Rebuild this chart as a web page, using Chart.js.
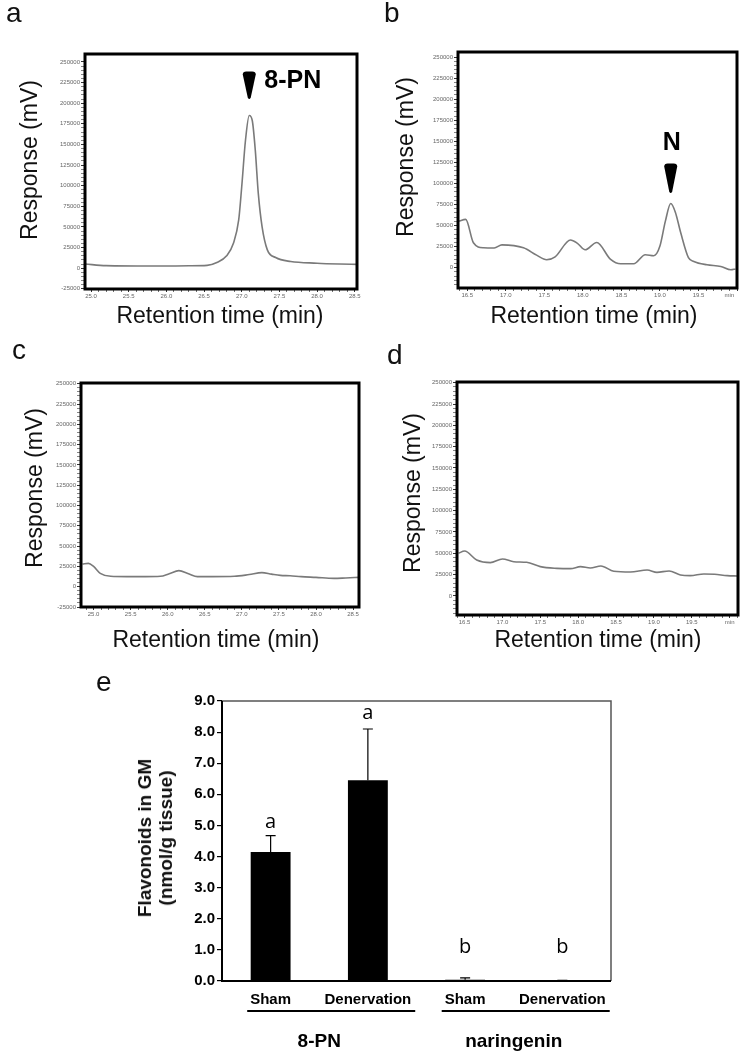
<!DOCTYPE html>
<html>
<head>
<meta charset="utf-8">
<script src="https://cdn.jsdelivr.net/npm/chart.js@4.4.1/dist/chart.umd.min.js"></script>
<style>
  body { margin: 0; background: #fff; }
  #page { position: relative; width: 743px; height: 1055px; overflow: hidden; font-family: "Liberation Sans", Arial, sans-serif; }
  canvas { position: absolute; }
  .t { position: absolute; white-space: nowrap; color: #111; line-height: 1; }
  .letter { font-size: 28px; }
  .ytitle { font-size: 23px; transform: translate(-50%, -50%) rotate(-90deg); }
  .xtitle { font-size: 23px; transform: translate(-50%, -50%); }
  .etitle { font-size: 19px; font-weight: bold; line-height: 21px; text-align: center; transform: translate(-50%, -50%) rotate(-90deg); }
</style>
</head>
<body>
<div id="page">
  <canvas id="chartA" width="370" height="340" style="left:0;top:0"></canvas>
  <canvas id="chartB" width="373" height="340" style="left:370px;top:0"></canvas>
  <canvas id="chartC" width="370" height="300" style="left:0;top:340px"></canvas>
  <canvas id="chartD" width="373" height="300" style="left:370px;top:340px"></canvas>
  <canvas id="chartE" width="743" height="405" style="left:0;top:650px"></canvas>

  <div class="t letter" style="left:6px;top:-1px">a</div>
  <div class="t letter" style="left:384px;top:-1px">b</div>
  <div class="t letter" style="left:12px;top:336px">c</div>
  <div class="t letter" style="left:387px;top:341px">d</div>
  <div class="t letter" style="left:96px;top:668px">e</div>

  <div class="t ytitle" style="left:29px;top:160px">Response (mV)</div>
  <div class="t ytitle" style="left:405px;top:157px">Response (mV)</div>
  <div class="t ytitle" style="left:34px;top:488px">Response (mV)</div>
  <div class="t ytitle" style="left:412px;top:493px">Response (mV)</div>

  <div class="t xtitle" style="left:220px;top:315px">Retention time (min)</div>
  <div class="t xtitle" style="left:594px;top:315px">Retention time (min)</div>
  <div class="t xtitle" style="left:216px;top:639px">Retention time (min)</div>
  <div class="t xtitle" style="left:598px;top:639px">Retention time (min)</div>

  <div class="t etitle" style="left:155px;top:838px">Flavonoids in GM<br>(nmol/g tissue)</div>
</div>
<script>
// panel a: 8-PN standard
const timeA = [24.92, 25.2, 25.8, 26.3, 26.54, 26.67, 26.8, 26.89, 26.96, 27.0, 27.05, 27.1, 27.14, 27.18, 27.22, 27.27, 27.34, 27.45, 27.65, 28.0, 28.3, 28.53];
const respA = [5000, 3000, 2500, 2800, 3300, 6800, 14900, 30200, 58400, 98600, 155000, 185000, 179000, 143000, 90600, 50300, 22100, 12900, 8000, 6000, 5000, 4500];

// panel b: naringenin standard
const timeB = [16.39, 16.48, 16.58, 16.71, 16.85, 16.95, 17.23, 17.4, 17.53, 17.64, 17.84, 17.93, 18.03, 18.18, 18.36, 18.49, 18.66, 18.81, 18.92, 19.0, 19.07, 19.14, 19.2, 19.27, 19.37, 19.44, 19.61, 19.79, 19.92, 19.98];
const respB = [55400, 57400, 29600, 23700, 23500, 27200, 23700, 15000, 9500, 13000, 33000, 29000, 21300, 30000, 9900, 4700, 4700, 15400, 14200, 25700, 55000, 76300, 66000, 41500, 12000, 7500, 3500, 1600, -2400, -1400];

// panel c: sham sample, 8-PN window
const timeC = [24.85, 24.93, 25.0, 25.09, 25.23, 25.45, 25.7, 25.9, 26.02, 26.15, 26.28, 26.4, 26.6, 26.9, 27.1, 27.27, 27.4, 27.52, 27.65, 27.8, 28.0, 28.24, 28.4, 28.58];
const respC = [28000, 28800, 25000, 16500, 12800, 12400, 12400, 12800, 16000, 19800, 16000, 12400, 12400, 12800, 15000, 17300, 15500, 14000, 13500, 12400, 11500, 10300, 10800, 11500];

// panel d: sham sample, naringenin window
const timeD = [16.42, 16.5, 16.66, 16.84, 17.0, 17.15, 17.32, 17.5, 17.72, 17.9, 18.03, 18.16, 18.3, 18.47, 18.69, 18.91, 19.04, 19.2, 19.35, 19.48, 19.66, 19.8, 19.97, 20.1];
const respD = [50000, 52700, 42200, 39100, 43400, 40200, 39500, 34400, 32400, 32000, 34400, 32800, 35200, 28900, 28100, 30500, 27700, 29300, 24600, 23800, 25800, 25400, 23800, 23400];

// panel e: flavonoids in GM
const barLabels = ["Sham", "Denervation", "Sham", "Denervation"];
const barMeans = [4.15, 6.45, 0.04, 0.01];
const barSD = [0.52, 1.65, 0.06, 0.01];
const sigLetters = ["a", "a", "b", "b"];
const letterLevel = [5.1, 8.6, 1.07, 1.07];
const groupNames = ["8-PN", "naringenin"];
const barTicks = [0, 1, 2, 3, 4, 5, 6, 7, 8, 9];

Chart.defaults.font.family = "'Liberation Sans', Arial, sans-serif";
Chart.defaults.animation = false;

const catFont = "bold 15px 'Liberation Sans', Arial, sans-serif";

const frame = {
  id: "frame",
  afterDatasetsDraw(chart, args, o) {
    const { ctx, chartArea: a } = chart;
    ctx.save();
    if (o.split) {
      ctx.strokeStyle = "#555";
      ctx.lineWidth = 1.5;
      ctx.beginPath();
      ctx.moveTo(a.left, a.top);
      ctx.lineTo(a.right, a.top);
      ctx.lineTo(a.right, a.bottom);
      ctx.stroke();
      ctx.strokeStyle = "#000";
      ctx.lineWidth = 2;
      ctx.beginPath();
      ctx.moveTo(a.left, a.top);
      ctx.lineTo(a.left, a.bottom);
      ctx.lineTo(a.right, a.bottom);
      ctx.stroke();
    } else {
      ctx.strokeStyle = "#000";
      ctx.lineWidth = o.width || 3;
      ctx.strokeRect(a.left, a.top, a.right - a.left, a.bottom - a.top);
    }
    ctx.restore();
  },
};

// arrowhead + compound name above a peak
const peakMark = {
  id: "peakMark",
  afterDatasetsDraw(chart, args, o) {
    if (!o.text) return;
    const ctx = chart.ctx;
    const x = chart.scales.x.getPixelForValue(o.t);
    const tip = chart.scales.y.getPixelForValue(o.v) - o.gap;
    const top = tip - o.len;
    ctx.save();
    ctx.fillStyle = "#000";
    ctx.beginPath();
    ctx.moveTo(x - 6.5, top + 3);
    ctx.quadraticCurveTo(x - 6.5, top, x - 3, top);
    ctx.lineTo(x + 3, top);
    ctx.quadraticCurveTo(x + 6.5, top, x + 6.5, top + 3);
    ctx.lineTo(x + 1.5, tip - 2);
    ctx.quadraticCurveTo(x, tip + 1, x - 1.5, tip - 2);
    ctx.closePath();
    ctx.fill();
    ctx.font = "bold 25px 'Liberation Sans', Arial, sans-serif";
    ctx.textBaseline = "middle";
    if (o.side === "right") {
      ctx.textAlign = "left";
      ctx.fillText(o.text, x + 15, top + 10);
    } else {
      ctx.textAlign = "center";
      ctx.fillText(o.text, x + 1, top - 20);
    }
    ctx.restore();
  },
};

function chromatogram(id, times, resp, cfg) {
  const pts = times.map((t, i) => ({ x: t, y: resp[i] }));
  return new Chart(document.getElementById(id), {
    type: "line",
    data: {
      datasets: [{
        data: pts,
        borderColor: "#7a7a7a",
        borderWidth: 1.6,
        pointRadius: 0,
        cubicInterpolationMode: "monotone",
        fill: false,
      }],
    },
    options: {
      responsive: false,
      layout: { padding: { left: 0, top: cfg.top, right: cfg.right, bottom: 0 } },
      plugins: {
        legend: { display: false },
        tooltip: { enabled: false },
        frame: { width: 3 },
        peakMark: cfg.mark || {},
      },
      scales: {
        x: {
          type: "linear",
          min: cfg.xMin,
          max: cfg.xMax,
          afterFit: (s) => { s.height = cfg.xh; },
          afterBuildTicks: (s) => {
            const t = [];
            for (let i = Math.ceil(s.min * 10); i <= Math.floor(s.max * 10); i++) t.push({ value: i / 10 });
            s.ticks = t;
          },
          border: { display: false },
          grid: {
            drawOnChartArea: false, tickLength: 3, color: "#333",
            lineWidth: (c) => (Math.round(c.tick.value * 10) % 5 === 0 ? 1 : 0.7),
          },
          ticks: {
            autoSkip: false, maxRotation: 0, padding: 1, color: "#666", font: { size: 6 },
            callback: (v) => {
              const r = Math.round(v * 10);
              if (cfg.minAt) {
                const m = Math.round(cfg.minAt * 10);
                if (r === m) return "min";
                if (r > m) return "";
              }
              return r % 5 === 0 ? (r / 10).toFixed(1) : "";
            },
          },
        },
        y: {
          min: cfg.yMin,
          max: cfg.yMax,
          afterFit: (s) => { s.width = cfg.yw; },
          afterBuildTicks: (s) => {
            const t = [];
            for (let v = Math.ceil(s.min / 5000) * 5000; v <= Math.min(s.max, 250000); v += 5000) t.push({ value: v });
            s.ticks = t;
          },
          border: { display: false },
          grid: {
            drawOnChartArea: false, tickLength: 4, color: "#333",
            lineWidth: (c) => (c.tick.value % 25000 === 0 ? 1 : 0.6),
          },
          ticks: {
            autoSkip: false, padding: 1, color: "#666", font: { size: 6 },
            callback: (v) => (v % 25000 === 0 ? String(v) : ""),
          },
        },
      },
    },
    plugins: [frame, peakMark],
  });
}

chromatogram("chartA", timeA, respA, {
  xMin: 24.92, xMax: 28.53, yMin: -25300, yMax: 259600,
  top: 54, right: 13, yw: 85, xh: 51,
  mark: { t: 27.1, v: 185000, gap: 16, len: 28, text: "8-PN", side: "right" },
});
chromatogram("chartB", timeB, respB, {
  xMin: 16.38, xMax: 20.0, yMin: -24000, yMax: 256000,
  top: 52, right: 6, yw: 88, xh: 52, minAt: 19.9,
  mark: { t: 19.14, v: 76300, gap: 10, len: 30, text: "N", side: "above" },
});
chromatogram("chartC", timeC, respC, {
  xMin: 24.83, xMax: 28.58, yMin: -25000, yMax: 251000,
  top: 43, right: 11, yw: 81, xh: 33,
});
chromatogram("chartD", timeD, respD, {
  xMin: 16.4, xMax: 20.11, yMin: -22300, yMax: 250800,
  top: 42, right: 5, yw: 87, xh: 25, minAt: 20.0,
});

// error bars, letters and group underlines for panel e
const barExtras = {
  id: "barExtras",
  afterDatasetsDraw(chart) {
    const { ctx, scales: { x, y } } = chart;
    const bars = chart.getDatasetMeta(0).data;
    ctx.save();
    ctx.strokeStyle = "#000";
    ctx.fillStyle = "#000";
    ctx.lineWidth = 1.2;
    bars.forEach((bar, i) => {
      const top = y.getPixelForValue(barMeans[i] + barSD[i]);
      ctx.beginPath();
      ctx.moveTo(bar.x, bar.y);
      ctx.lineTo(bar.x, top);
      ctx.moveTo(bar.x - 5, top);
      ctx.lineTo(bar.x + 5, top);
      ctx.stroke();
    });
    ctx.font = "20px 'Open Sans', sans-serif";
    ctx.textAlign = "center";
    ctx.textBaseline = "middle";
    bars.forEach((bar, i) => {
      ctx.fillText(sigLetters[i], bar.x, y.getPixelForValue(letterLevel[i]));
    });
    const lineY = y.bottom + 30;
    ctx.font = catFont;
    groupNames.forEach((name, g) => {
      const c0 = x.getPixelForValue(2 * g), c1 = x.getPixelForValue(2 * g + 1);
      const w0 = ctx.measureText(barLabels[2 * g]).width;
      const w1 = ctx.measureText(barLabels[2 * g + 1]).width;
      ctx.lineWidth = 2.2;
      ctx.beginPath();
      ctx.moveTo(c0 - w0 / 2 - 3, lineY);
      ctx.lineTo(c1 + w1 / 2 + 4, lineY);
      ctx.stroke();
    });
    ctx.font = "bold 19px 'Liberation Sans', Arial, sans-serif";
    groupNames.forEach((name, g) => {
      const mid = (x.getPixelForValue(2 * g) + x.getPixelForValue(2 * g + 1)) / 2;
      ctx.fillText(name, mid, y.bottom + 61);
    });
    ctx.restore();
  },
};

new Chart(document.getElementById("chartE"), {
  type: "bar",
  data: {
    labels: barLabels,
    datasets: [{
      data: barMeans,
      backgroundColor: "#000",
      categoryPercentage: 1,
      barPercentage: 0.41,
    }],
  },
  options: {
    responsive: false,
    layout: { padding: { left: 0, top: 51, right: 132, bottom: 0 } },
    plugins: {
      legend: { display: false },
      tooltip: { enabled: false },
      frame: { split: true },
    },
    scales: {
      x: {
        afterFit: (s) => { s.height = 74; },
        border: { display: false },
        grid: { display: false },
        ticks: {
          autoSkip: false, maxRotation: 0, minRotation: 0, padding: 2, color: "#000",
          font: { size: 15, weight: "bold" },
        },
      },
      y: {
        min: 0,
        max: 9,
        afterFit: (s) => { s.width = 222; },
        afterBuildTicks: (s) => { s.ticks = barTicks.map((v) => ({ value: v })); },
        border: { display: false },
        grid: { drawOnChartArea: false, tickLength: 5, color: "#000", lineWidth: 1.2 },
        ticks: {
          padding: 2, color: "#000",
          font: { size: 15, weight: "bold" },
          callback: (v) => v.toFixed(1),
        },
      },
    },
  },
  plugins: [frame, barExtras],
});
</script>
</body>
</html>
